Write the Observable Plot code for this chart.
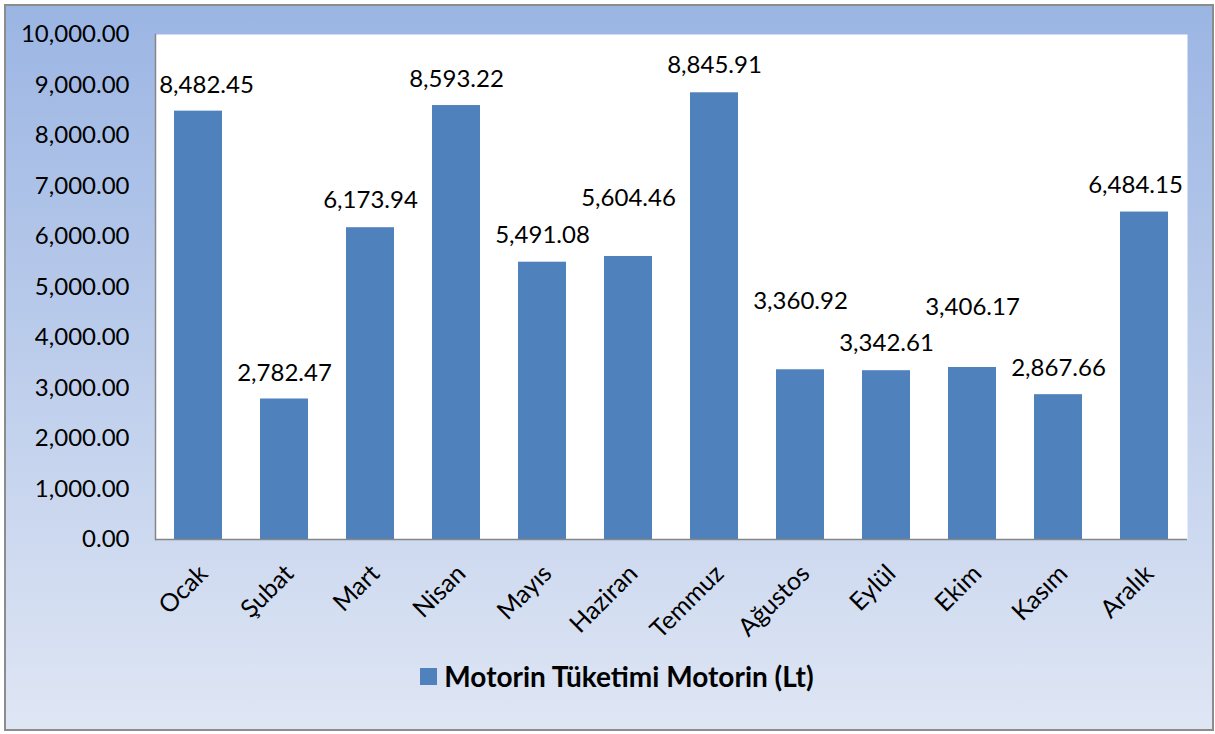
<!DOCTYPE html>
<html><head><meta charset="utf-8">
<script src="https://cdn.jsdelivr.net/npm/d3@7"></script>
<script src="https://cdn.jsdelivr.net/npm/@observablehq/plot@0.6"></script>
<style>
html,body{margin:0;padding:0;background:#fff;}
#chart{position:absolute;left:4px;top:4px;width:1210px;height:727px;box-sizing:border-box;border:2px solid #8c8c8c;background:linear-gradient(to bottom,#9bb5e3,#dfe6f4);font-family:Lato,sans-serif;}
#chart svg{display:block;}
#legend{display:flex;justify-content:center;align-items:center;padding-left:16px;margin-top:3px;font:bold 28px Lato,sans-serif;color:#000;line-height:34px;}
#legend .sw{width:17px;height:17px;background:#4f81bd;margin-right:7px;}
</style></head><body><div id="chart"></div>
<script>
const months = ["Ocak","Şubat","Mart","Nisan","Mayıs","Haziran","Temmuz","Ağustos","Eylül","Ekim","Kasım","Aralık"];
const consumption = [8482.45, 2782.47, 6173.94, 8593.22, 5491.08, 5604.46, 8845.91, 3360.92, 3342.61, 3406.17, 2867.66, 6484.15];
const seriesName = "Motorin Tüketimi Motorin (Lt)";
const yTicks = [0,1000,2000,3000,4000,5000,6000,7000,8000,9000,10000];

// label placement (pixels), kept apart from the data
const labelLift = [-26,-26,-27,-26,-27,-58,-27,-68,-27,-60,-26,-27];
const labelShift = [8,0,0,0,0,0,0,0,0,0,0,-9];

const fmt = d3.format(",.2f");
const data = months.map((m,i)=>({month:m, value:consumption[i], label:fmt(consumption[i])}));

const labelMarks = data.map((d,i)=>Plot.text([d], {x:"month", y:"value", text:"label", dy:labelLift[i], dx:labelShift[i], fill:"#000", fontSize:24}));

const plot = Plot.plot({
  width:1206, height:650,
  marginLeft:149, marginRight:25, marginTop:28, marginBottom:117,
  style:{background:"transparent", fontFamily:"Lato, sans-serif", fontSize:"24px", color:"#000"},
  x:{domain:months, paddingInner:0.44, paddingOuter:0.22, label:null},
  y:{domain:[0,10000], label:null},
  marks:[
    Plot.frame({fill:"white", stroke:null}),
    Plot.barY(data, {x:"month", y:"value", fill:"#4f81bd"}),
    Plot.frame({anchor:"left", stroke:"#868686", strokeWidth:1.5}),
    Plot.ruleY([0], {stroke:"#868686", strokeWidth:1.5}),
    Plot.axisY({ticks:yTicks, tickFormat:fmt, tickSize:0, tickPadding:26, fontSize:24, fill:"#000", label:null}),
    Plot.axisX({tickRotate:-45, tickSize:0, tickPadding:30, dx:5, textAnchor:"end", fontSize:25, fill:"#000", label:null}),
    ...labelMarks
  ]
});
const chart = document.getElementById("chart");
chart.appendChild(plot);
const legend = document.createElement("div");
legend.id = "legend";
legend.innerHTML = '<div class="sw"></div><span></span>';
legend.querySelector("span").textContent = seriesName;
chart.appendChild(legend);
</script></body></html>
